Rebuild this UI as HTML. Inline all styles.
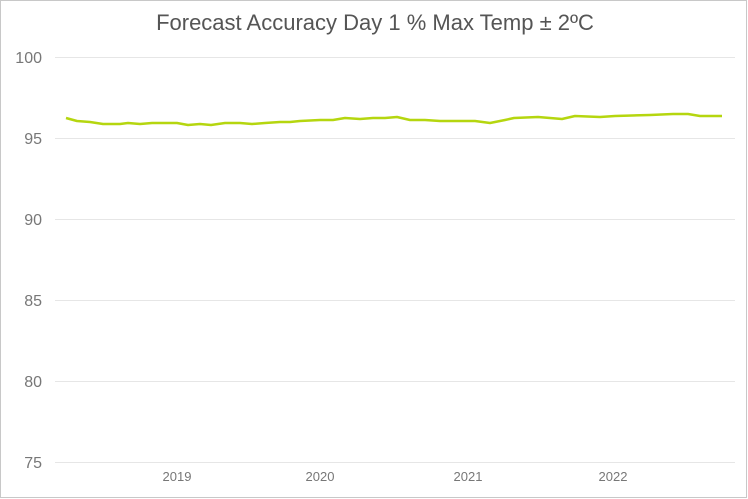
<!DOCTYPE html>
<html><head><style>
html,body{margin:0;padding:0;background:#fff;}
svg{display:block;font-family:"Liberation Sans",sans-serif;}
</style></head><body>
<svg width="748" height="499" viewBox="0 0 748 499">
<rect x="0.5" y="0.5" width="746" height="497" fill="#fff" stroke="#c8c8c8"/>
<text x="375" y="30" text-anchor="middle" font-size="22" fill="#555">Forecast Accuracy Day 1 % Max Temp ± 2ºC</text>
<g stroke="#e6e6e6" stroke-width="1">
<line x1="55" x2="735" y1="57.5" y2="57.5"/>
<line x1="55" x2="735" y1="138.5" y2="138.5"/>
<line x1="55" x2="735" y1="219.5" y2="219.5"/>
<line x1="55" x2="735" y1="300.5" y2="300.5"/>
<line x1="55" x2="735" y1="381.5" y2="381.5"/>
<line x1="55" x2="735" y1="462.5" y2="462.5"/>
</g>
<g font-size="16" fill="#777" text-anchor="end">
<text x="42" y="63">100</text>
<text x="42" y="144">95</text>
<text x="42" y="225">90</text>
<text x="42" y="306">85</text>
<text x="42" y="387">80</text>
<text x="42" y="468">75</text>
</g>
<g font-size="13" fill="#777" text-anchor="middle">
<text x="177" y="481">2019</text>
<text x="320" y="481">2020</text>
<text x="468" y="481">2021</text>
<text x="613" y="481">2022</text>
</g>
<polyline fill="none" stroke="#b5d60f" stroke-width="2.5" stroke-linejoin="round" points="66,118 77,121 90,122 103,124 120,124 128,123 140,124 152,123 165,123 177,123 188,125 200,124 211,125 225,123 240,123 252,124 265,123 280,122 290,122 300,121 320,120 333,120 345,118 360,119 373,118 385,118 397,117 410,120 425,120 440,121 455,121 475,121 490,123 505,120 514,118 538,117 550,118 562,119 575,116 600,117 615,116 628,115.6 650,115 673,114 688,114 700,116 722,116"/>
</svg>
</body></html>
